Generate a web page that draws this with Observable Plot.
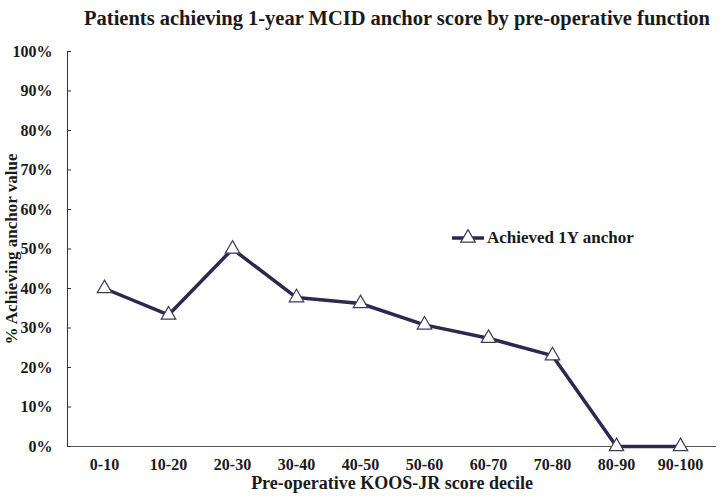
<!DOCTYPE html>
<html>
<head>
<meta charset="utf-8">
<script src="https://cdn.jsdelivr.net/npm/d3@7"></script>
<script src="https://cdn.jsdelivr.net/npm/@observablehq/plot@0.6"></script>
<style>
  html, body { margin: 0; padding: 0; background: #fff; }
  #wrap { position: relative; width: 724px; height: 504px; font-family: "Liberation Serif", serif; }
  #legend { position: absolute; left: 452px; top: 228px; display: flex; align-items: center; font-weight: bold; font-size: 17px; color: #1a1a1a; }
</style>
</head>
<body>
<div id="wrap"></div>
<script>
const categories = ["0-10","10-20","20-30","30-40","40-50","50-60","60-70","70-80","80-90","90-100"];
const achieved = [0.40, 0.333, 0.50, 0.377, 0.362, 0.308, 0.274, 0.230, 0.0, 0.0];
const yTicks = [0,0.1,0.2,0.3,0.4,0.5,0.6,0.7,0.8,0.9,1.0];
const title = "Patients achieving 1-year MCID anchor score by pre-operative function";
const xLabel = "Pre-operative KOOS-JR score decile";
const yLabel = "% Achieving anchor value";
const seriesName = "Achieved 1Y anchor";

const data = categories.map((c, i) => ({cat: c, v: achieved[i]}));
const lineColor = "#2b2a4c";

const chart = Plot.plot({
  width: 724,
  height: 504,
  marginLeft: 67,
  marginRight: 8,
  marginTop: 51,
  marginBottom: 58,
  style: {fontFamily: "Liberation Serif, serif", fontSize: "16px", fontWeight: "bold", color: "#1a1a1a", background: "#fff"},
  x: {type: "point", domain: categories, padding: 0.5},
  y: {domain: [0, 1]},
  marks: [
    Plot.frame({anchor: "left", stroke: "#333"}),
    Plot.ruleY([0], {stroke: "#555"}),
    Plot.axisY({ticks: yTicks, tickFormat: d3.format(".0%"), tickSize: -4, tickPadding: 19, label: null, stroke: "#333", fontSize: 16}),
    Plot.axisX({tickSize: 0, tickPadding: 12, label: null, fontSize: 16}),
    Plot.line(data, {x: "cat", y: "v", stroke: lineColor, strokeWidth: 3.5}),
    Plot.dot(data, {x: "cat", y: "v", symbol: "triangle", r: 5.4, fill: "white", stroke: "#3c3c58", strokeWidth: 1.2}),
    Plot.text([title], {frameAnchor: "top", dx: 5, dy: -41, fontSize: 20.5, fontWeight: "bold"}),
    Plot.text([xLabel], {frameAnchor: "bottom", dy: 42, fontSize: 18, fontWeight: "bold"}),
    Plot.text([yLabel], {frameAnchor: "left", textAnchor: "middle", rotate: -90, dx: -56, fontSize: 17, fontWeight: "bold"})
  ]
});

const wrap = document.getElementById("wrap");
wrap.appendChild(chart);

const legend = document.createElement("div");
legend.id = "legend";
legend.innerHTML = `<svg width="33" height="20" style="margin-right:2px"><line x1="0" y1="10" x2="32" y2="10" stroke="${lineColor}" stroke-width="3.5"/><path d="${d3.symbol(d3.symbolTriangle, Math.PI*5.4*5.4)()}" transform="translate(16,10)" fill="white" stroke="#3c3c58" stroke-width="1.2"/></svg><span>${seriesName}</span>`;
wrap.appendChild(legend);
</script>
</body>
</html>
